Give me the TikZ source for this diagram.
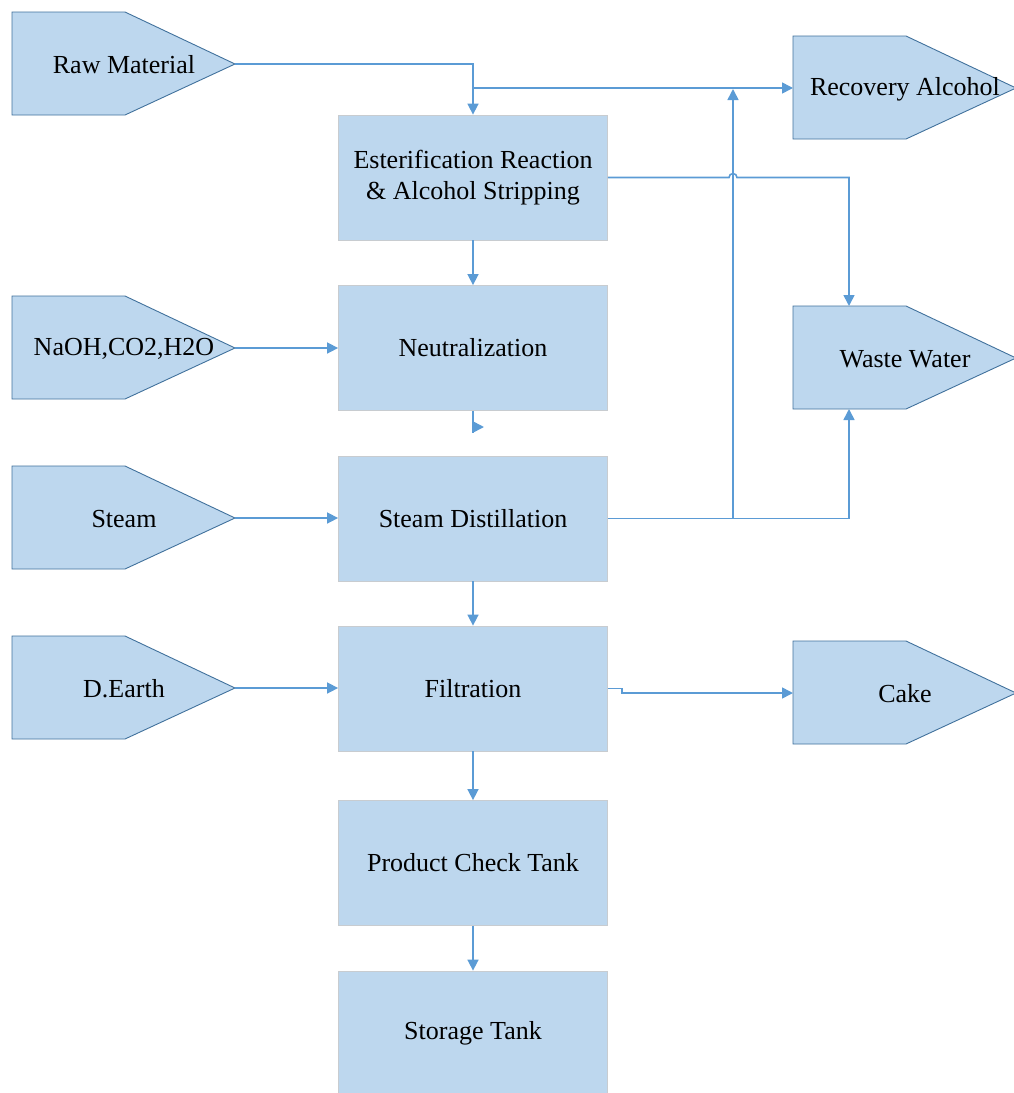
\documentclass[tikz,border=0pt]{standalone}
\usepackage{fontspec}
\setmainfont{Liberation Serif}
\usetikzlibrary{arrows.meta}
\definecolor{boxfill}{HTML}{BDD7EE}
\definecolor{pentline}{HTML}{41719C}
\definecolor{flowline}{HTML}{5B9BD5}
\definecolor{boxedge}{HTML}{C8CCD0}
\tikzset{
  x=1pt, y=-1pt,
  every node/.style={font=\fontsize{26}{31}\selectfont, align=center},
  stage/.style={rectangle, fill=boxfill, draw=boxedge, line width=0.8pt,
                minimum width=269pt, minimum height=125pt, inner sep=0pt},
  pentshape/.style={fill=boxfill, draw=pentline, line width=0.9pt, line join=miter},
  flow/.style={draw=flowline, line width=1.6pt},
  arr/.style={flow, -{Triangle[length=11pt,width=11pt]}},
}
% pentagon tag: #1 name, #2 left x, #3 top y, #4 text
\newcommand\flowtag[4]{%
  \path[pentshape] (#2,#3) -- ++(113,0) -- ++(110,52) -- ++(-110,51) -- ++(-113,0) -- cycle;
  \coordinate (#1-in) at (#2,#3+52);
  \coordinate (#1-tip) at (#2+223,#3+52);
  \node (#1) at (#2+112,#3+53) {#4};
}
\begin{document}
\begin{tikzpicture}
\useasboundingbox (0,0) rectangle (1014,1093);

% process stages
\node[stage] (ester) at (473,177.5) {Esterification Reaction\\\& Alcohol Stripping};
\node[stage] (neut)  at (473,348)   {Neutralization};
\node[stage] (dist)  at (473,518.5) {Steam Distillation};
\node[stage] (filt)  at (473,688.5) {Filtration};
\node[stage] (check) at (473,863)   {Product Check Tank};
\node[stage] (store) at (473,1033.5){Storage Tank};

% inputs
\flowtag{raw}{12}{12}{Raw Material}
\flowtag{naoh}{12}{296}{NaOH,CO2,H2O}
\flowtag{steam}{12}{466}{Steam}
\flowtag{earth}{12}{636}{D.Earth}
% outputs
\flowtag{rec}{793}{36}{Recovery Alcohol}
\flowtag{waste}{793}{306}{Waste Water}
\flowtag{cake}{793}{641}{Cake}

% junction points
\coordinate (recj) at (473,88);
\coordinate (riser) at (733,518.5);
\coordinate (riserTop) at (733,89);
\coordinate (wcol) at (849,518.5);
\coordinate (wasteTop) at (849,306);
\coordinate (wasteBot) at (849,409);
\coordinate (hopL) at (729,177.5);
\coordinate (wturn) at (849,177.5);
\coordinate (cakeStep) at (622,693);
\coordinate (neutStub) at (473,427);
\coordinate (neutStubEnd) at (484,427);

% main line
\draw[arr] (raw-tip) -| (ester.north);
\draw[arr] (ester) -- (neut);
\draw[flow] (neut.south) -- ([yshift=-22pt]neut.south);
\draw[arr] (neutStub) -- (neutStubEnd);
\draw[arr] (dist) -- (filt);
\draw[arr] (filt) -- (check);
\draw[arr] (check) -- (store);

% side feeds
\draw[arr] (naoh-tip) -- (naoh-tip -| neut.west);
\draw[arr] (steam-tip) -- (steam-tip -| dist.west);
\draw[arr] (earth-tip) -- (earth-tip -| filt.west);

% recovered alcohol
\draw[arr] (recj) -- (rec-in);
\draw[arr] (dist.east) -- (riser) -- (riserTop);

% waste water
\draw[arr] (ester.east) -- (hopL) arc[start angle=180, end angle=0, radius=4pt]
  -- (wturn) -- (wasteTop);
\draw[arr] (riser) -- (wcol) -- (wasteBot);

% filter cake
\draw[arr] (filt.east) -| (cakeStep) -- (cake-in);
\end{tikzpicture}
\end{document}
